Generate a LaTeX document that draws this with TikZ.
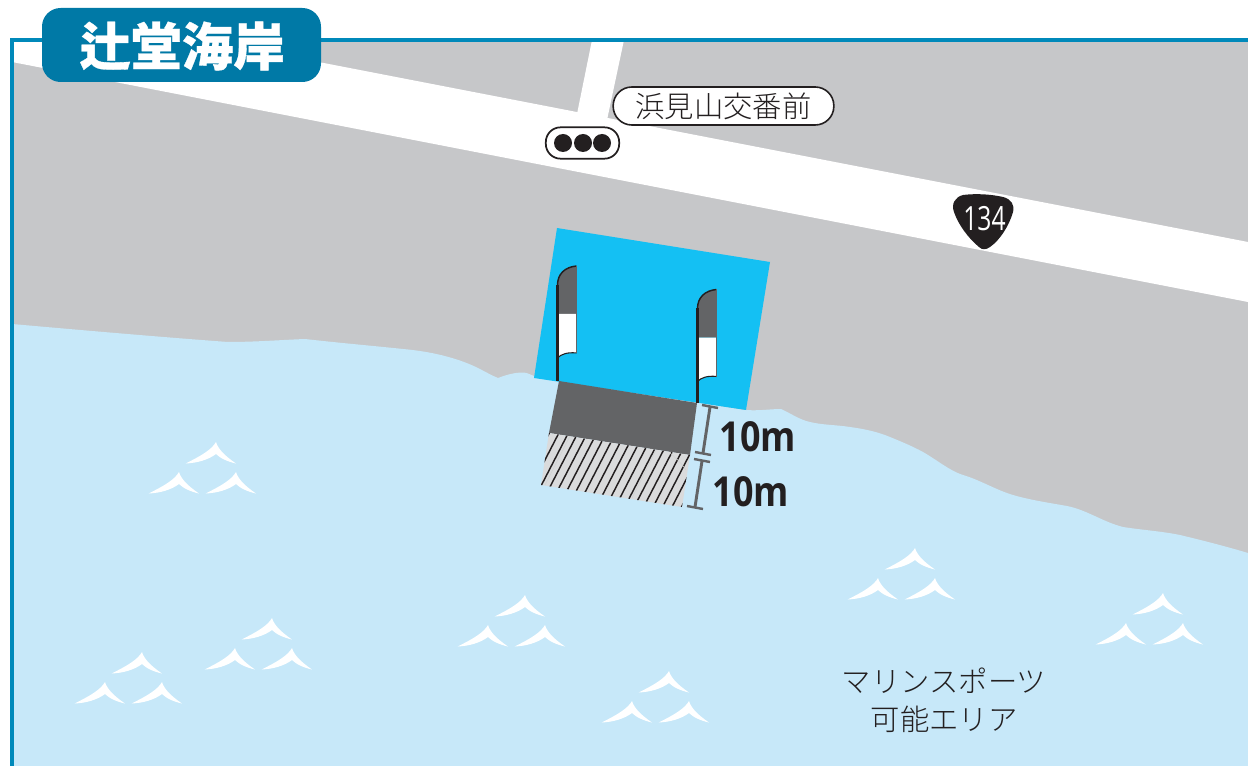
\documentclass[tikz,border=0pt]{standalone}
\usepackage{fontspec}
\setmainfont{Open Sans}
\newfontfamily\cjk{Noto Sans CJK JP}
\newfontfamily\cjkthin{Noto Sans CJK JP Light}
\definecolor{land}{HTML}{C6C7C9}
\definecolor{sea}{HTML}{C7E8F9}
\definecolor{frameblue}{HTML}{0089BA}
\definecolor{titleblue}{HTML}{0079A6}
\definecolor{zone}{HTML}{14C0F3}
\definecolor{darkzone}{HTML}{636466}
\definecolor{hatchbg}{HTML}{DADBDC}
\definecolor{ink}{HTML}{231F20}
\tikzset{
  px/.style={x=0.75pt,y=-0.75pt},
  wavecurve/.style={fill=white,draw=none},
  dimline/.style={draw=darkzone,line width=2.2pt},
  dimcap/.style={draw=darkzone,line width=1.8pt},
  pole/.style={draw=ink,line width=1.6pt},
  crest/.pic={
    \fill[wavecurve] (0,0) .. controls (-4,7) and (-13,13) .. (-30.5,21.5)
      .. controls (-19,21) and (-8,18) .. (0,12)
      .. controls (4,16) and (11,19.5) .. (20,21.5)
      .. controls (9,14) and (2,7) .. (0,0) -- cycle;
    }
}
\begin{document}
\begin{tikzpicture}[px]
\useasboundingbox (0,0) rectangle (1248,766);
\fill[white] (0,0) rectangle (1248,766);
% land
\fill[land] (12,40) -- (1248,40) -- (1248,560) -- (12,560) -- cycle;
% roads
\fill[white] (12,40) -- (205,40) -- (1248,242) -- (1248,302) -- (12,62) -- cycle;
\fill[white] (592,40) -- (624,40) -- (607,120) -- (577,114) -- cycle;
% sea
\fill[sea] (12,324) .. controls (80,330) and (160,337) .. (228,342)
  .. controls (255,342) and (280,340) .. (305,339)
  .. controls (340,343) and (375,346) .. (403,349)
  .. controls (425,351) and (445,355) .. (464,362)
  .. controls (478,367) and (488,374) .. (498,378)
  .. controls (506,375) and (514,372.5) .. (523,372.5)
  .. controls (527,372.5) and (531,375) .. (534,376)
  -- (560,380) -- (700,403) -- (745,410)
  .. controls (760,411) and (770,409) .. (781,409)
  .. controls (790,413) and (800,420) .. (810,422)
  .. controls (822,425) and (838,425) .. (850,427)
  .. controls (865,429) and (878,432) .. (890,437)
  .. controls (902,442) and (912,446) .. (923,452)
  .. controls (937,460) and (950,471) .. (963,475)
  .. controls (980,480) and (996,490) .. (1013,495)
  .. controls (1030,500) and (1050,503) .. (1067,506)
  .. controls (1087,510) and (1103,522) .. (1123,527)
  .. controls (1142,530) and (1160,531) .. (1180,535)
  .. controls (1205,541) and (1228,547) .. (1248,553)
  -- (1248,766) -- (12,766) -- cycle;
% frame
\draw[frameblue,line width=2.8pt] (12,766) -- (12,39.8) -- (1248,39.8);
% launching zone
\fill[zone] (557,228) -- (770,262) -- (746,410) -- (534,378) -- cycle;
\fill[darkzone] (559,381) -- (697,403) -- (690,455) -- (549,433) -- cycle;
\fill[hatchbg] (549,433) -- (690,455) -- (682,507) -- (541,485) -- cycle;
\begin{scope}
\clip (549,433) -- (690,455) -- (682,507) -- (541,485) -- cycle;
\foreach \i in {0,...,18}{
  \draw[ink,line width=1.1pt] ({552+\i*8.75},{428+\i*1.37}) -- ({520+\i*8.75},{490+\i*1.37});
}
\draw[white!70!darkzone,line width=0.4pt] (570,436) -- (545,485);
\draw[white!70!darkzone,line width=0.4pt] (656,450) -- (632,498);
\draw[white!70!darkzone,line width=0.4pt] (670,453) .. controls (676,458) and (682,464) .. (686,470);
\end{scope}
% flags
\foreach \dx/\dy/\ybase in {0/0/381,140/23.5/403}{
\begin{scope}[shift={(\dx,\dy)}]
  \fill[darkzone] (557.5,285) .. controls (557.5,274) and (565,267) .. (576.5,266) -- (576.5,314) -- (557.5,314) -- cycle;
  \fill[white] (557.5,314) -- (576.5,314) -- (576.5,353) .. controls (568,352) and (561,354) .. (557.5,358) -- cycle;
  \draw[ink,line width=0.8pt] (576.5,353) .. controls (568,352) and (561,354) .. (557.5,358);
  \draw[ink,line width=1.1pt] (576.5,266) .. controls (565,267) and (557.5,274) .. (557.5,285);
  \draw[darkzone,line width=0.6pt] (576.5,266) -- (576.5,353);
\end{scope}
\draw[pole] (\dx+557.5,\dy+285) -- (\dx+557.5,\ybase);
}
% dimensions
\draw[dimline] (710,407) -- (703,453);
\draw[dimcap] (702,405) -- (718,408);
\draw[dimcap] (695,452) -- (711,455);
\draw[dimline] (702,461) -- (695,507);
\draw[dimcap] (694,459) -- (710,462);
\draw[dimcap] (687,506) -- (703,509);
\node[text=ink,inner sep=0pt,xscale=0.87] (tenA) at (758,437) {\fontsize{31}{31}\selectfont\bfseries 10m};
\node[text=ink,inner sep=0pt,xscale=0.87] (tenB) at (751,492) {\fontsize{31}{31}\selectfont\bfseries 10m};
% waves
\foreach \tx/\ty in {216/442,915/548,525/595,272/618,142/652,669/671,1163/593}{
  \pic at (\tx,\ty) {crest};
  \pic at (\tx-37,\ty+30) {crest};
  \pic at (\tx+20,\ty+30) {crest};
}
% title
\fill[titleblue,rounded corners=14pt] (42,8) rectangle (321,82);
\node[text=white,inner sep=0pt] (title) at (182,46) {\cjk\fontsize{38.5}{38.5}\selectfont\bfseries\addfontfeature{FakeBold=0.6}辻堂海岸};
% intersection name
\node[draw=ink,fill=white,line width=1.2pt,rounded corners=14pt,minimum width=165.5pt,minimum height=28.5pt,inner sep=0pt] (cross) at (723.5,106) {\cjkthin\fontsize{22}{22}\selectfont\color{ink}浜見山交番前};
% signal
\node[draw=ink,fill=white,line width=1.3pt,rounded corners=11pt,minimum width=55pt,minimum height=23.5pt,inner sep=0pt] (signal) at (582.5,143) {};
\foreach \cx in {563,583,602}{\fill[ink] (\cx,143) circle[radius=9];}
% route shield
\fill[ink] (963,195) .. controls (975,193.5) and (990,194) .. (1003,197)
  .. controls (1011,199) and (1015,205) .. (1013,212)
  .. controls (1009,226) and (1000,240) .. (990,247)
  .. controls (986,250) and (982,250) .. (979,247)
  .. controls (968,238) and (958,224) .. (954,212)
  .. controls (951,204) and (955,197) .. (963,195) -- cycle;
\node[text=white,inner sep=0pt,xscale=0.74] (route) at (984.5,219) {\fontsize{25}{25}\selectfont 134};
% text
\node[text=ink,inner sep=0pt] (areaA) at (944,681) {\cjkthin\fontsize{22}{22}\selectfont マリンスポーツ};
\node[text=ink,inner sep=0pt] (areaB) at (944,719) {\cjkthin\fontsize{22}{22}\selectfont 可能エリア};
\end{tikzpicture}
\end{document}
